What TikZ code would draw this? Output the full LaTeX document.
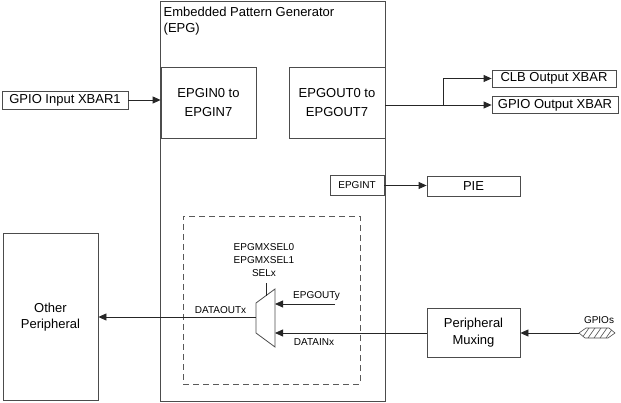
\documentclass[tikz,border=0pt]{standalone}
\usepackage{fontspec}
\setmainfont{Liberation Sans}
\usetikzlibrary{arrows.meta}

\tikzset{
  blk/.style={draw=black!70, line width=0.8pt, inner sep=0pt, align=center, font=\fontsize{13}{16}\selectfont},
  sig/.style={font=\fontsize{10}{13}\selectfont, inner sep=0pt, align=center},
  arr/.style={-{Triangle[length=8pt,width=7pt]}, line width=0.8pt, draw=black!85},
}

\begin{document}
\begin{tikzpicture}[x=1pt,y=-1pt]
\useasboundingbox (0,0) rectangle (621,403);
% EPG module
\node[blk, line width=1pt, minimum width=225pt, minimum height=399.5pt] (epg) at (273,201.25) {};
\node[anchor=north west, inner sep=0pt, align=left, font=\fontsize{13}{16}\selectfont] (epgtitle) at (163.5,6.5) {Embedded Pattern Generator\\(EPG)};
\node[blk, minimum width=95pt, minimum height=71pt, font=\fontsize{13}{19}\selectfont] (epgin) at (208.5,102.5) {EPGIN0 to\\EPGIN7};
\node[blk, minimum width=96pt, minimum height=71pt, font=\fontsize{13}{19}\selectfont] (epgout) at (337,102.5) {EPGOUT0 to\\EPGOUT7};
\node[blk, sig, draw=black!70, line width=0.8pt, minimum width=54pt, minimum height=20pt] (epgint) at (357,185.5) {EPGINT};
\node[draw=black!65, line width=0.8pt, dash pattern=on 6pt off 4pt, minimum width=177pt, minimum height=168pt] (muxarea) at (271.5,300) {};

% outside blocks
\node[blk, minimum width=126pt, minimum height=18pt] (xbarin) at (65,100) {GPIO Input XBAR1};
\node[blk, minimum width=124pt, minimum height=17pt] (clb) at (554,78.5) {CLB Output XBAR};
\node[blk, minimum width=126pt, minimum height=17pt] (gpioout) at (555,105) {GPIO Output XBAR};
\node[blk, minimum width=93pt, minimum height=20pt] (pie) at (473.5,186) {PIE};
\node[blk, minimum width=95pt, minimum height=167.5pt] (other) at (50.5,316.75) {Other\\Peripheral};
\node[blk, minimum width=93pt, minimum height=49pt, font=\fontsize{13}{17}\selectfont] (pmux) at (473.5,332.5) {Peripheral\\Muxing};

% mux
\draw[black!70, line width=0.8pt] (256,303) -- (275,289) -- (275,347) -- (256,333) -- cycle;
\coordinate (muxout) at (256,317);
\coordinate (muxin1) at (275,304);
\coordinate (muxin2) at (275,333);
\coordinate (muxsel) at (266,296);
\coordinate (epgouty) at (335,304);
\draw[black!85, line width=0.8pt] (muxsel) -- ++(0,-13);
\node[sig] (selx) at (264,260) {EPGMXSEL0\\EPGMXSEL1\\SELx};
\node[sig] (dataoutlbl) at (220.5,310) {DATAOUTx};
\node[sig] (epgoutylbl) at (316.5,296) {EPGOUTy};
\node[sig] (datainlbl) at (314,342) {DATAINx};

% GPIO pins
\draw[black!70, line width=0.6pt] (579,333) -- (586,328) -- (609,328) -- (615,333) -- (608,338) -- (585,338) -- cycle;
\begin{scope}
\clip (579,333) -- (586,328) -- (609,328) -- (615,333) -- (608,338) -- (585,338) -- cycle;
\foreach \x in {582,588,...,612}
  \draw[black!70, line width=0.6pt] (\x,338) -- (\x+7,328);
\end{scope}
\coordinate (gpios) at (579,333);
\node[sig] (gpioslbl) at (599,320) {GPIOs};

% connections
\draw[arr] (xbarin.east) -- (xbarin.east -| epgin.west);
\coordinate (split) at (443,105);
\draw[arr] (epgout.east |- gpioout.west) -- (gpioout.west);
\draw[arr] (split) |- (clb.west);
\draw[arr] (epgint.east) -- (epgint.east -| pie.west);
\draw[arr] (muxout) -- (muxout -| other.east);
\draw[arr] (epgouty) -- (muxin1);
\draw[arr] (pmux.west |- muxin2) -- (muxin2);
\draw[arr] (gpios) -- (gpios -| pmux.east);
\end{tikzpicture}
\end{document}
